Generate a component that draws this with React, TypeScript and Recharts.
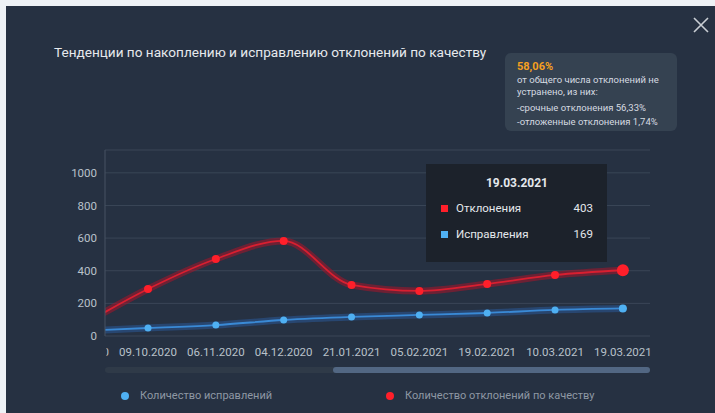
import { CartesianGrid, Line, LineChart, Tooltip, XAxis, YAxis } from "recharts";

// index 0 is the point scrolled out of view on the left
const dates = [
  "11.09.2020",
  "09.10.2020",
  "06.11.2020",
  "04.12.2020",
  "21.01.2021",
  "05.02.2021",
  "19.02.2021",
  "10.03.2021",
  "19.03.2021",
];
const deviations = [60, 288, 472, 583, 313, 276, 319, 374, 403];
const fixes = [30, 49, 67, 98, 117, 129, 141, 160, 169];
const yTicks = [0, 200, 400, 600, 800, 1000];

const seriesNames = ["Отклонения", "Исправления"];
const legendLabels = ["Количество исправлений", "Количество отклонений по качеству"];

const data = dates.map((date, i) => ({
  idx: i,
  date,
  deviations: deviations[i],
  fixes: fixes[i],
}));

const PANEL = "#263142";
const RED = "#ff1f2a";
const BLUE = "#4fb0f2";

function XTick({ x, y, payload }: any) {
  const label = dates[payload.value] ?? "";
  return (
    <g>
      <defs>
        <clipPath id="xtick-clip">
          <rect x={106.5} y={0} width={700} height={413} />
        </clipPath>
      </defs>
      <text
        x={x}
        y={y}
        dy={12}
        textAnchor="middle"
        fill="#b9c1ca"
        fontSize={11.5}
        clipPath="url(#xtick-clip)"
      >
        {label}
      </text>
    </g>
  );
}

function InfoTooltip({ payload }: any) {
  if (!payload || !payload.length) return null;
  const row = payload[0].payload;
  const items = [
    { name: seriesNames[0], value: row.deviations, color: RED },
    { name: seriesNames[1], value: row.fixes, color: BLUE },
  ];
  return (
    <div
      style={{
        width: 181,
        height: 98,
        background: "#1c222b",
        boxSizing: "border-box",
        padding: "12px 14px 0 15px",
        fontFamily: "Roboto",
        color: "#e4e8ec",
      }}
    >
      <div style={{ textAlign: "center", fontSize: 12, fontWeight: 700, marginBottom: 5 }}>
        {row.date}
      </div>
      {items.map((it) => (
        <div
          key={it.name}
          style={{ display: "flex", alignItems: "center", height: 26, fontSize: 11.5 }}
        >
          <span style={{ width: 7, height: 7, background: it.color, marginRight: 8 }} />
          <span style={{ flex: 1 }}>{it.name}</span>
          <span>{it.value}</span>
        </div>
      ))}
    </div>
  );
}

export default function App() {
  return (
    <div
      style={{
        position: "fixed",
        left: 0,
        top: 0,
        width: 715,
        height: 413,
        background: "#eef2f6",
        fontFamily: "Roboto",
        overflow: "hidden",
      }}
    >
      <div
        style={{ position: "absolute", left: 6, top: 6, width: 709, height: 407, background: PANEL }}
      />
      <div
        style={{
          position: "absolute",
          left: 54,
          top: 44,
          fontSize: 13.6,
          color: "#e6e9ed",
          whiteSpace: "nowrap",
        }}
      >
        Тенденции по накоплению и исправлению отклонений по качеству
      </div>

      <svg style={{ position: "absolute", left: 0, top: 0 }} width={715} height={413}>
        <path d="M694 18 L708 32 M708 18 L694 32" stroke="#c9ced4" strokeWidth={1.6} />
      </svg>

      <div
        style={{
          position: "absolute",
          left: 505,
          top: 53,
          width: 172,
          height: 78,
          background: "#354251",
          borderRadius: 6,
          color: "#d6dbe1",
          fontSize: 9.5,
        }}
      >
        <div style={{ position: "absolute", left: 12, top: 7, color: "#f5a020", fontWeight: 700, fontSize: 11 }}>
          58,06%
        </div>
        <div style={{ position: "absolute", left: 12, top: 21 }}>от общего числа отклонений не</div>
        <div style={{ position: "absolute", left: 12, top: 33 }}>устранено, из них:</div>
        <div style={{ position: "absolute", left: 12, top: 49 }}>-срочные отклонения 56,33%</div>
        <div style={{ position: "absolute", left: 12, top: 63 }}>-отложенные отклонения 1,74%</div>
      </div>

      <div style={{ position: "absolute", left: 0, top: 0 }}>
        <LineChart
          width={715}
          height={413}
          data={data}
          margin={{ top: 150, right: 65, bottom: 47, left: 65 }}
        >
          <CartesianGrid stroke="#3a4657" vertical={false} />
          <XAxis
            dataKey="idx"
            type="number"
            domain={[0.366, 8.4]}
            allowDataOverflow
            ticks={dates.map((_, i) => i)}
            axisLine={false}
            tickLine={false}
            height={30}
            tick={<XTick />}
            interval={0}
          />
          <YAxis
            type="number"
            domain={[0, 1140]}
            ticks={yTicks}
            allowDataOverflow
            width={40}
            axisLine={{ stroke: "#465263" }}
            tickLine={false}
            tick={{ fill: "#b9c1ca", fontSize: 11.5 }}
          />
          <Tooltip
            defaultIndex={8}
            active
            cursor={false}
            position={{ x: 426, y: 164 }}
            content={<InfoTooltip />}
            wrapperStyle={{ outline: "none" }}
          />
          <Line
            dataKey="fixes"
            name="glow-fixes"
            type="monotone"
            stroke="#2a5590"
            strokeWidth={7}
            strokeOpacity={0.6}
            dot={false}
            activeDot={false}
            legendType="none"
            tooltipType="none"
            isAnimationActive={false}
          />
          <Line
            dataKey="fixes"
            name={seriesNames[1]}
            type="monotone"
            stroke="#3a8ad6"
            strokeWidth={1.8}
            dot={{ r: 3.5, fill: BLUE, stroke: "none" }}
            activeDot={{ r: 4, fill: BLUE, stroke: "none" }}
            isAnimationActive={false}
          />
          <Line
            dataKey="deviations"
            name="glow-deviations"
            type="monotone"
            stroke="#a8142a"
            strokeWidth={7}
            strokeOpacity={0.55}
            dot={false}
            activeDot={false}
            legendType="none"
            tooltipType="none"
            isAnimationActive={false}
          />
          <Line
            dataKey="deviations"
            name={seriesNames[0]}
            type="monotone"
            stroke="#d81f30"
            strokeWidth={1.8}
            dot={{ r: 4, fill: RED, stroke: "none" }}
            activeDot={{ r: 6, fill: RED, stroke: "none" }}
            isAnimationActive={false}
          />
        </LineChart>
      </div>

      <div
        style={{
          position: "absolute",
          left: 105,
          top: 367,
          width: 545,
          height: 6,
          borderRadius: 3,
          background: "#2f3a48",
        }}
      />
      <div
        style={{
          position: "absolute",
          left: 333,
          top: 367,
          width: 317,
          height: 6,
          borderRadius: 3,
          background: "#526783",
        }}
      />

      {[
        { label: legendLabels[0], color: BLUE, left: 121 },
        { label: legendLabels[1], color: RED, left: 386 },
      ].map((it) => (
        <div
          key={it.label}
          style={{
            position: "absolute",
            left: it.left,
            top: 389,
            display: "flex",
            alignItems: "center",
            fontSize: 11,
            color: "#8e98a4",
            whiteSpace: "nowrap",
          }}
        >
          <span
            style={{
              width: 8,
              height: 8,
              borderRadius: 4,
              background: it.color,
              marginRight: 11,
            }}
          />
          {it.label}
        </div>
      ))}
    </div>
  );
}
